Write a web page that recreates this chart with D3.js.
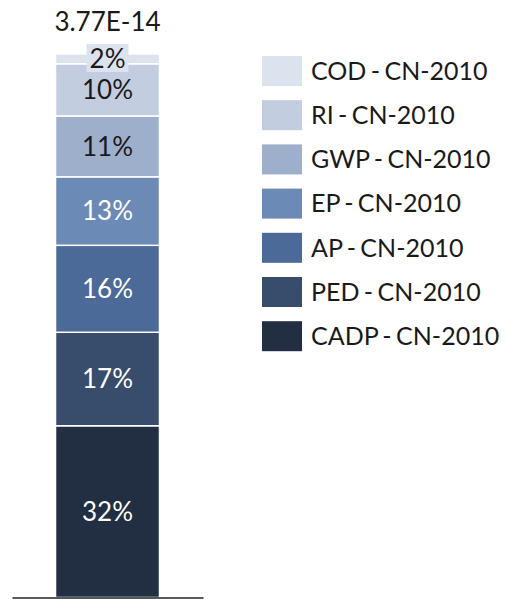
<!DOCTYPE html>
<html>
<head>
<meta charset="utf-8">
<script src="https://cdn.jsdelivr.net/npm/d3@7"></script>
<style>
  body { margin: 0; background: #fff; }
  text { font-family: Lato, "Open Sans", sans-serif; }
</style>
</head>
<body>
<svg id="chart" width="505" height="599"></svg>
<script>
// stacked from bottom to top
var categories = ["CADP", "PED", "AP", "EP", "GWP", "RI", "COD"];
var shares = [0.316, 0.172, 0.160, 0.126, 0.112, 0.096, 0.018];
var colors = ["#222f43", "#384c6c", "#4c6a98", "#6c8ab6", "#9eafcc", "#c3cde0", "#dce3ee"];
var group = "CN-2010";
var totalLabel = "3.77E-14";

var svg = d3.select("#chart");
var margin = {left: 12, right: 302, top: 54, bottom: 1.5};
var width = +svg.attr("width") - margin.left - margin.right,
    height = +svg.attr("height") - margin.top - margin.bottom;

var g = svg.append("g").attr("transform", "translate(" + margin.left + "," + margin.top + ")");

var row = {};
categories.forEach(function(c, i) { row[c] = shares[i]; });
var stacked = d3.stack().keys(categories)([row]);

var x = d3.scaleBand()
    .domain([group])
    .range([0, width])
    .padding(0.295);

var y = d3.scaleLinear()
    .domain([0, d3.sum(shares)])
    .range([height, 0]);

var color = d3.scaleOrdinal().domain(categories).range(colors);
var fmt = d3.format(".0%");

g.selectAll("rect.seg")
    .data(stacked)
    .enter().append("rect")
    .attr("class", "seg")
    .attr("x", x(group))
    .attr("width", x.bandwidth())
    .attr("y", function(d) { return y(d[0][1]); })
    .attr("height", function(d) { return y(d[0][0]) - y(d[0][1]); })
    .attr("fill", function(d) { return color(d.key); })
    .attr("stroke", "#fff")
    .attr("stroke-width", 1.5);

var labels = g.selectAll("g.lbl")
    .data(stacked)
    .enter().append("g")
    .attr("class", "lbl")
    .attr("transform", function(d) {
        return "translate(" + (x(group) + x.bandwidth() / 2) + "," + y((d[0][0] + d[0][1]) / 2) + ")";
    });

labels.append("text")
    .attr("text-anchor", "middle")
    .attr("dy", "0.35em")
    .attr("font-size", 26)
    .attr("fill", function(d, i) { return i >= 4 ? "#1a1a1a" : "#fff"; })
    .text(function(d) { return fmt(d[0][1] - d[0][0]); });

// small top segment: label sits on a box of its own colour
labels.filter(function(d) { return y(d[0][0]) - y(d[0][1]) < 20; })
    .insert("rect", "text")
    .each(function(d) {
        var bb = this.parentNode.querySelector("text").getBBox();
        d3.select(this)
            .attr("x", bb.x - 3).attr("y", bb.y + 2)
            .attr("width", bb.width + 6).attr("height", bb.height - 4)
            .attr("fill", color(d.key));
    });

g.append("text")
    .attr("x", x(group) + x.bandwidth() / 2)
    .attr("y", y(d3.sum(shares)) - 23)
    .attr("text-anchor", "middle")
    .attr("font-size", 26)
    .attr("fill", "#1a1a1a")
    .text(totalLabel);

g.append("g")
    .attr("class", "axis axis--x")
    .attr("transform", "translate(0," + height + ")")
    .call(d3.axisBottom(x).tickSize(0).tickFormat(""))
    .select(".domain")
    .attr("stroke", "#222")
    .attr("stroke-width", 1.5);

var legend = svg.append("g")
    .attr("transform", "translate(262,56)");

var item = legend.selectAll("g")
    .data(categories.slice().reverse())
    .enter().append("g")
    .attr("transform", function(d, i) { return "translate(0," + (i * 44.2) + ")"; });

item.append("rect")
    .attr("width", 40)
    .attr("height", 30)
    .attr("fill", function(d) { return color(d); });

item.append("text")
    .attr("x", 49)
    .attr("y", 15)
    .attr("dy", "0.35em")
    .attr("font-size", 25)
    .attr("word-spacing", -2)
    .attr("fill", "#1a1a1a")
    .text(function(d) { return d + " - " + group; });
</script>
</body>
</html>
